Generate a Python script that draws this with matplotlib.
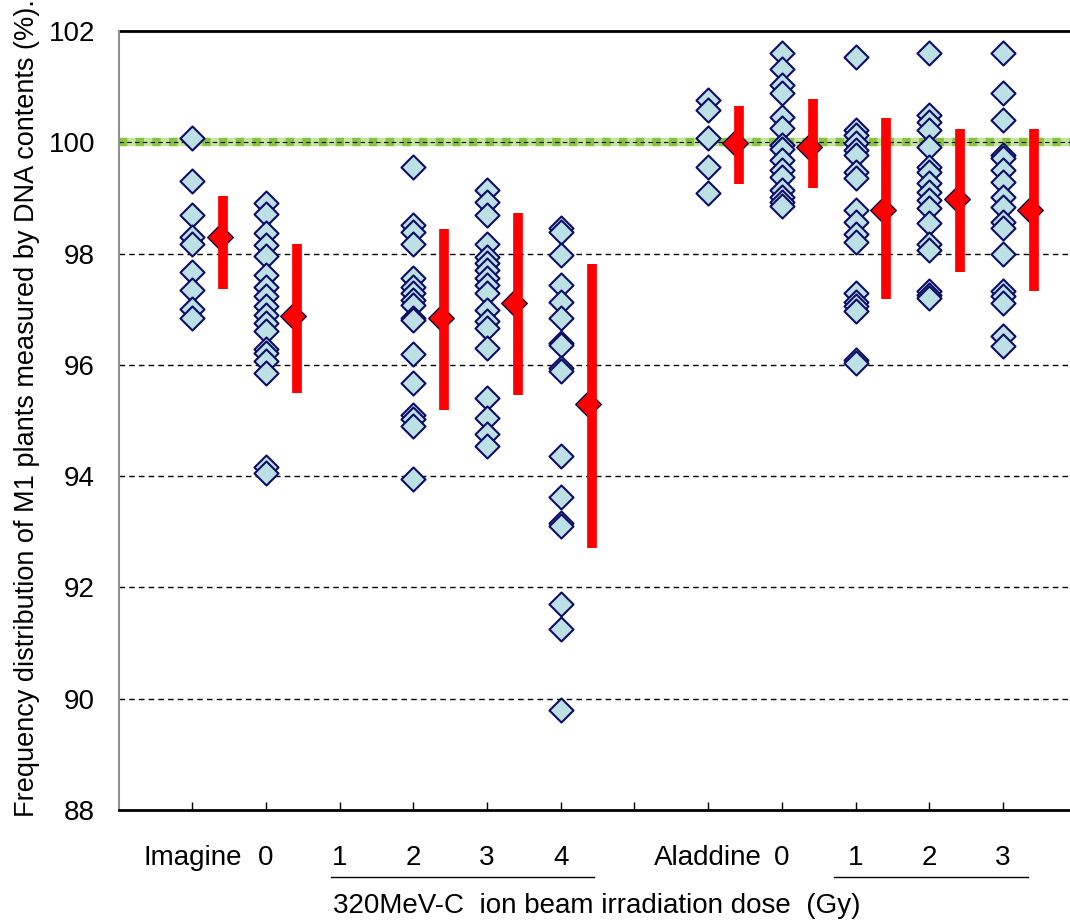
import numpy as np
import matplotlib.pyplot as plt

plt.rcParams['font.family'] = ['Liberation Sans', 'DejaVu Sans']

# position of each group on the x axis (3 and 7 are empty slots)
positions = [1, 2, 4, 5, 6, 8, 9, 10, 11, 12]

imagine_ctrl = [100.08, 99.30, 98.70, 98.29, 98.17, 97.66, 97.34, 97.00, 96.84]
imagine_0 = [98.91, 98.71, 98.37, 98.15, 97.96, 97.61, 97.40, 97.24, 97.05, 96.90,
             96.75, 96.60, 96.28, 96.21, 96.06, 95.85, 94.17, 94.05]
imagine_2 = [99.55, 98.51, 98.39, 98.17, 97.56, 97.40, 97.29, 97.17, 97.08, 96.84,
             96.81, 96.19, 95.68, 95.10, 95.03, 94.90, 93.95]
imagine_3 = [99.14, 98.93, 98.69, 98.17, 97.94, 97.83, 97.70, 97.56, 97.43, 97.29,
             96.99, 96.78, 96.66, 96.30, 95.40, 95.05, 94.75, 94.55]
imagine_4 = [98.45, 98.39, 97.97, 97.43, 97.13, 96.84, 96.40, 96.36, 95.95, 95.88,
             94.36, 93.62, 93.15, 93.10, 91.70, 91.25, 89.80]
aladdine_ctrl = [100.76, 100.58, 100.07, 99.55, 99.08]
aladdine_0 = [101.60, 101.31, 101.03, 100.88, 100.45, 100.25, 99.95, 99.87, 99.68,
              99.51, 99.38, 99.14, 99.02, 98.93, 98.85]
aladdine_1 = [101.54, 100.22, 100.13, 99.98, 99.86, 99.77, 99.47, 99.35, 98.78, 98.57,
              98.36, 98.21, 97.29, 97.13, 97.05, 96.96, 96.09, 96.03]
aladdine_2 = [101.60, 100.49, 100.37, 100.22, 99.92, 99.56, 99.47, 99.26, 99.11, 98.96,
              98.81, 98.54, 98.18, 98.06, 97.32, 97.26, 97.20]
aladdine_3 = [101.60, 100.88, 100.40, 99.77, 99.71, 99.50, 99.29, 99.02, 98.84, 98.57,
              98.45, 98.00, 97.32, 97.23, 97.11, 96.51, 96.33]

groups = [imagine_ctrl, imagine_0, imagine_2, imagine_3, imagine_4,
          aladdine_ctrl, aladdine_0, aladdine_1, aladdine_2, aladdine_3]

# group means and the ends of the red bars
means = [98.29, 96.87, 96.84, 97.11, 95.29, 99.99, 99.91, 98.79, 98.98, 98.79]
bar_top = [99.03, 98.18, 98.44, 98.72, 97.81, 100.65, 100.78, 100.43, 100.24, 100.24]
bar_bottom = [97.37, 95.49, 95.19, 95.45, 92.71, 99.25, 99.17, 97.19, 97.67, 97.32]

tick_labels = ['Imagine', '0', '1', '2', '3', '4', '', 'Aladdine', '0', '1', '2', '3']

fig = plt.figure(figsize=(10.7, 9.24), dpi=100)
ax = fig.add_axes([0.1108, 0.1234, 0.8892, 0.8431])

# grid lines
for g in range(90, 102, 2):
    ax.axhline(g, color='black', lw=1, ls=(0, (4, 3)), zorder=1)
ax.axhline(102, color='black', lw=2, zorder=1, clip_on=False)

# reference line at 100 (light green band)
ax.axhline(100, color='#c4e69c', lw=6, zorder=1.5)
ax.axhline(100, color='#86c440', lw=6, ls=(0, (1, 1)), zorder=1.6)
ax.axhline(100, color='black', lw=0.8, ls=(0, (4, 3)), zorder=1.7)

for pos, vals in zip(positions, groups):
    ax.scatter(np.full(len(vals), pos), vals, marker='D', s=150,
               facecolor='#bde0e4', edgecolor='#0d0d66', linewidth=1.5, zorder=3)

off = 0.42
for pos, m, top, bot in zip(positions, means, bar_top, bar_bottom):
    ax.scatter(pos + off - 0.05, m, marker='D', s=170, facecolor='red',
               edgecolor='#0d0d40', linewidth=1, zorder=4)
    ax.vlines(pos + off, bot, top, color='red', lw=7, zorder=5)

ax.set_xlim(0, 12.91)
ax.set_ylim(88, 102)
ax.set_yticks(range(88, 103, 2))
ax.set_yticklabels([str(v) for v in range(88, 103, 2)], fontsize=20)
ax.tick_params(axis='y', length=0, pad=17)
ax.set_xticks(range(1, 13))
ax.set_xticklabels([])
ax.tick_params(axis='x', direction='in', length=6, width=1, color='black')

for s in ['top', 'right']:
    ax.spines[s].set_visible(False)
ax.spines['left'].set_color('#909090')
ax.spines['left'].set_linewidth(1.5)
ax.spines['bottom'].set_linewidth(2)

# category labels under the axis
for i, lab in enumerate(tick_labels):
    ax.text(i + 1, -0.062, lab, transform=ax.get_xaxis_transform(),
            ha='center', va='center', fontsize=20)

# underlines for the dose groups
fig.add_artist(plt.Line2D([331 / 1070, 594 / 1070], [1 - 877 / 924] * 2,
                          color='black', lw=1))
fig.add_artist(plt.Line2D([834 / 1070, 1028 / 1070], [1 - 877 / 924] * 2,
                          color='black', lw=1))

fig.text(597 / 1070, 1 - 906 / 924, '320MeV-C  ion beam irradiation dose  (Gy)',
         ha='center', va='center', fontsize=20)
fig.text(27 / 1070, 1 - 408 / 924,
         'Frequency distribution of M1 plants measured by DNA contents (%).',
         rotation=90, ha='center', va='center', fontsize=19.5)

plt.savefig('out.png', dpi=100)
